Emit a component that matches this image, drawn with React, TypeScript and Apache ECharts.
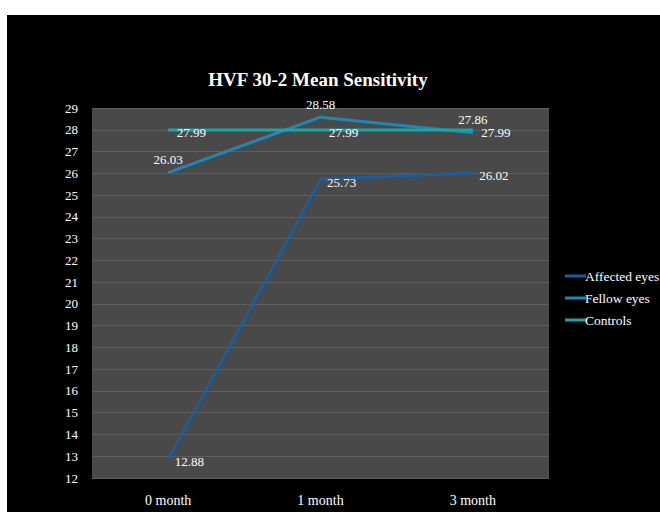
import React, { useEffect, useRef } from "react";
import * as echarts from "echarts";

const categories = ["0 month", "1 month", "3 month"];
const affectedEyes = [12.88, 25.73, 26.02];
const fellowEyes = [26.03, 28.58, 27.86];
const controls = [27.99, 27.99, 27.99];
const seriesNames = ["Affected eyes", "Fellow eyes", "Controls"];

const FONT = "'Liberation Serif', 'DejaVu Serif', serif";

export default function App() {
  const ref = useRef<HTMLDivElement>(null);
  useEffect(() => {
    const chart = echarts.init(ref.current!, undefined, { renderer: "svg" });
    const label = (position: any, offset?: number[]) => ({
      show: true,
      position,
      distance: 6,
      offset: offset || [0, 0],
      color: "#ffffff",
      fontFamily: FONT,
      fontSize: 13,
    });
    const base = {
      type: "line",
      symbol: "circle",
      symbolSize: 1,
      showSymbol: true,
    };
    chart.setOption({
      animation: false,
      backgroundColor: "#000000",
      title: {
        text: "HVF 30-2 Mean Sensitivity",
        left: 306,
        textAlign: "center",
        top: 50,
        textStyle: { color: "#ffffff", fontFamily: FONT, fontSize: 19, fontWeight: "bold" },
      },
      legend: {
        orient: "vertical",
        left: 553,
        top: 249,
        itemGap: 8,
        itemWidth: 21,
        itemHeight: 3,
        icon: "rect",
        data: seriesNames,
        textStyle: { color: "#ffffff", fontFamily: FONT, fontSize: 13.5, padding: [0, 0, 0, -6] },
      },
      grid: {
        left: 85,
        top: 93,
        right: 111,
        bottom: 34,
        show: true,
        backgroundColor: "#494949",
        borderWidth: 0,
      },
      xAxis: {
        type: "category",
        data: categories,
        boundaryGap: true,
        axisLine: { show: false },
        axisTick: { show: false },
        axisLabel: { color: "#ffffff", fontFamily: FONT, fontSize: 14, margin: 15 },
      },
      yAxis: {
        type: "value",
        min: 12,
        max: 29,
        interval: 1,
        axisLine: { show: false },
        axisTick: { show: false },
        axisLabel: { color: "#ffffff", fontFamily: FONT, fontSize: 13, margin: 14 },
        splitLine: { lineStyle: { color: "#5e5e5e", width: 1 } },
      },
      series: [
        {
          ...base,
          name: seriesNames[0],
          data: affectedEyes,
          color: "#1b5e9c",
          itemStyle: { color: "#1b5e9c" },
          lineStyle: { width: 3, color: "#1b5e9c" },
          label: label("right", [0, 3]),
        },
        {
          ...base,
          name: seriesNames[1],
          data: fellowEyes,
          color: "#1f87b3",
          itemStyle: { color: "#1f87b3" },
          lineStyle: { width: 3, color: "#1f87b3" },
          label: label("top", [0, 0]),
        },
        {
          ...base,
          name: seriesNames[2],
          data: controls,
          color: "#1ea3a6",
          itemStyle: { color: "#1ea3a6" },
          lineStyle: { width: 3, color: "#1ea3a6" },
          label: label("right", [2, 3]),
        },
      ],
    });
    return () => chart.dispose();
  }, []);
  return (
    <div
      ref={ref}
      style={{ position: "fixed", left: 7, top: 15, width: 653, height: 497 }}
    />
  );
}
